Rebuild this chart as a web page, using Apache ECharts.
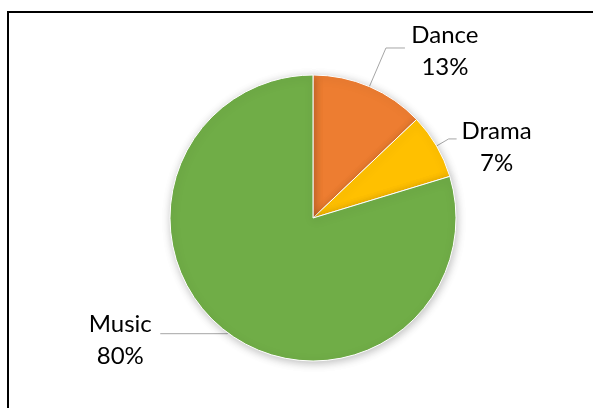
<!DOCTYPE html>
<html>
<head>
<meta charset="utf-8">
<script src="https://cdn.jsdelivr.net/npm/echarts@6/dist/echarts.min.js"></script>
<style>
  html, body { margin: 0; padding: 0; background: #fff; }
  #chart { width: 593px; height: 408px; }
</style>
</head>
<body>
<div id="chart"></div>
<script>
// chart data
var categories = ['Dance', 'Drama', 'Music'];
var shares = [12.9, 7.4, 79.7];
var colors = ['#ED7D31', '#FFC000', '#70AD47'];

// label line lengths per slice (Excel placed them by hand)
var lineLen = [42, 14, 1];
var lineLen2 = [19, 8, 67];
var labelShift = [6, 16, 14];

var myChart = echarts.init(document.getElementById('chart'));

var pieData = categories.map(function (name, i) {
  return {
    name: name,
    value: shares[i],
    itemStyle: { color: colors[i] },
    labelLine: { length: lineLen[i], length2: lineLen2[i] },
    label: { padding: [labelShift[i], 0, 0, 0] }
  };
});

var option = {
  animation: false,
  backgroundColor: '#fff',
  graphic: [{
    type: 'rect',
    shape: { x: 8, y: 12, width: 700, height: 500 },
    style: { fill: 'none', stroke: '#000', lineWidth: 2 },
    silent: true
  }],
  series: [{
    type: 'pie',
    center: [313, 218],
    radius: 143,
    startAngle: 90,
    clockwise: true,
    avoidLabelOverlap: false,
    percentPrecision: 0,
    itemStyle: {
      borderColor: '#fff',
      borderWidth: 1,
      shadowBlur: 8,
      shadowColor: 'rgba(0,0,0,0.25)',
      shadowOffsetX: 1,
      shadowOffsetY: 2
    },
    label: {
      show: true,
      position: 'outside',
      width: 72,
      distanceToLabelLine: 4,
      formatter: '{n|{b}}\n{n|{d}%}',
      rich: {
        n: {
          align: 'center',
          fontFamily: 'Lato, sans-serif',
          fontSize: 24,
          lineHeight: 32,
          color: '#000'
        }
      }
    },
    labelLine: {
      show: true,
      lineStyle: { color: '#A6A6A6', width: 1 }
    },
    data: pieData
  }]
};

myChart.setOption(option);
</script>
</body>
</html>
